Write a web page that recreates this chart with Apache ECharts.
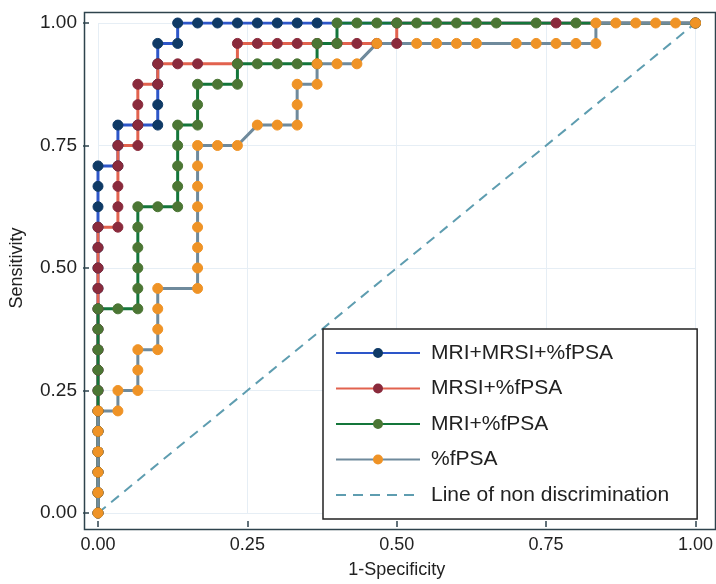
<!DOCTYPE html>
<html>
<head>
<meta charset="utf-8">
<script src="https://cdn.jsdelivr.net/npm/echarts@6/dist/echarts.min.js"></script>
<style>
  html, body { margin: 0; padding: 0; background: #fff; }
  #chart { width: 716px; height: 584px; }
</style>
</head>
<body>
<div id="chart"></div>
<script>
// ROC points as [false positives, true positives] counts
const nNeg = 30;
const nPos = 24;

const mriMrsiFpsa = [
  [0, 0], [0, 1], [0, 2], [0, 3], [0, 4], [0, 5], [0, 6], [0, 7], [0, 8], [0, 9],
  [0, 10], [0, 11], [0, 12], [0, 13], [0, 14], [0, 15], [0, 16], [0, 17],
  [1, 17], [1, 18], [1, 19], [2, 19], [3, 19], [3, 20], [3, 21], [3, 22], [3, 23],
  [4, 23], [4, 24], [5, 24], [6, 24], [7, 24], [8, 24], [9, 24], [10, 24], [11, 24],
  [30, 24]
];

const mrsiFpsa = [
  [0, 0], [0, 1], [0, 2], [0, 3], [0, 4], [0, 5], [0, 6], [0, 7], [0, 8], [0, 9],
  [0, 10], [0, 11], [0, 12], [0, 13], [0, 14],
  [1, 14], [1, 15], [1, 16], [1, 17], [1, 18], [2, 18], [2, 19], [2, 20], [2, 21],
  [3, 21], [3, 22], [4, 22], [5, 22], [7, 22], [7, 23], [8, 23], [9, 23], [10, 23],
  [11, 23], [12, 23], [13, 23], [14, 23], [15, 23], [15, 24], [23, 24], [30, 24]
];

const mriFpsa = [
  [0, 0], [0, 1], [0, 2], [0, 3], [0, 4], [0, 5], [0, 6], [0, 7], [0, 8], [0, 9], [0, 10],
  [1, 10], [2, 10], [2, 11], [2, 12], [2, 13], [2, 14], [2, 15], [3, 15], [4, 15],
  [4, 16], [4, 17], [4, 18], [4, 19], [5, 19], [5, 20], [5, 21], [6, 21], [7, 21],
  [7, 22], [8, 22], [9, 22], [10, 22], [11, 22], [11, 23], [12, 23], [12, 24],
  [13, 24], [14, 24], [15, 24], [16, 24], [17, 24], [18, 24], [19, 24], [20, 24],
  [22, 24], [24, 24], [30, 24]
];

const fpsa = [
  [0, 0], [0, 1], [0, 2], [0, 3], [0, 4], [0, 5], [1, 5], [1, 6], [2, 6], [2, 7], [2, 8],
  [3, 8], [3, 9], [3, 10], [3, 11], [5, 11], [5, 12], [5, 13], [5, 14], [5, 15], [5, 16],
  [5, 17], [5, 18], [6, 18], [7, 18], [8, 19], [9, 19], [10, 19], [10, 20], [10, 21],
  [11, 21], [11, 22], [12, 22], [13, 22], [14, 23], [16, 23], [17, 23], [18, 23],
  [19, 23], [21, 23], [22, 23], [23, 23], [24, 23], [25, 23], [25, 24], [26, 24],
  [27, 24], [28, 24], [29, 24], [30, 24]
];

const diagonal = [[0, 0], [1, 1]];

const seriesNames = ['MRI+MRSI+%fPSA', 'MRSI+%fPSA', 'MRI+%fPSA', '%fPSA', 'Line of non discrimination'];

const toRates = pts => pts.map(p => [p[0] / nNeg, p[1] / nPos]);

const font = 'Liberation Sans, Arial, Helvetica, sans-serif';

function rocSeries(name, pts, lineColor, dotColor) {
  return {
    name: name,
    type: 'line',
    data: toRates(pts),
    symbol: 'circle',
    symbolSize: 10,
    lineStyle: { color: lineColor, width: 3 },
    itemStyle: { color: dotColor, borderColor: dotColor, borderWidth: 1 },
    emphasis: { disabled: true },
    animation: false
  };
}

// 0..1 fills the grid; the axes are pushed out onto the frame with offset
function valueAxis(name, offset) {
  return {
    type: 'value',
    min: 0,
    max: 1,
    interval: 0.25,
    offset: offset,
    name: name,
    nameLocation: 'middle',
    nameTextStyle: { fontSize: 18, color: '#222', fontFamily: font },
    axisLine: { show: false, onZero: false },
    axisTick: {
      show: true, inside: true, length: 6,
      lineStyle: { color: '#2e434d', width: 1.5 }
    },
    axisLabel: {
      color: '#222', fontFamily: font,
      formatter: v => v.toFixed(2)
    },
    splitLine: { show: true, lineStyle: { color: '#e6eef5', width: 1 } }
  };
}

let chart = echarts.init(document.getElementById('chart'));

let xAxis = valueAxis('1-Specificity', 14);
xAxis.nameGap = 34;
xAxis.axisLabel.fontSize = 18;
xAxis.axisLabel.margin = 9;

let yAxis = valueAxis('Sensitivity', 15);
yAxis.nameGap = 57;
yAxis.nameRotate = 90;
yAxis.axisLabel.fontSize = 19;
yAxis.axisLabel.margin = 6;

let option = {
  backgroundColor: '#fff',
  textStyle: { fontFamily: font },
  grid: {
    left: 97,
    top: 23,
    width: 605,
    height: 490
  },
  graphic: [{
    type: 'rect',
    left: 82,
    top: 10,
    shape: { width: 631, height: 517 },
    style: { fill: null, stroke: '#2e434d', lineWidth: 1.5 },
    silent: true,
    z: 10
  }],
  xAxis: xAxis,
  yAxis: yAxis,
  legend: {
    data: seriesNames.slice(0, 4).concat([{ name: seriesNames[4], itemStyle: { opacity: 0 } }]),
    orient: 'vertical',
    left: 323,
    top: 329,
    padding: [12, 28, 12, 12],
    itemWidth: 84,
    itemHeight: 10,
    itemGap: 11.5,
    borderColor: '#222',
    borderWidth: 1.5,
    backgroundColor: '#fff',
    textStyle: { fontSize: 21, color: '#222', lineHeight: 24, fontFamily: font, padding: [0, 0, 0, 6] },
    selectedMode: false,
    z: 20
  },
  series: [
    {
      name: seriesNames[4],
      type: 'line',
      data: diagonal,
      symbol: 'none',
      lineStyle: { color: '#5e9db0', width: 2, type: [10, 7] },
      emphasis: { disabled: true },
      animation: false
    },
    rocSeries(seriesNames[0], mriMrsiFpsa, '#2d56c9', '#0f3a66'),
    rocSeries(seriesNames[1], mrsiFpsa, '#e2624e', '#8a2a3c'),
    rocSeries(seriesNames[2], mriFpsa, '#14763a', '#4b7634'),
    rocSeries(seriesNames[3], fpsa, '#6f8a9c', '#ef9326')
  ]
};

chart.setOption(option);
</script>
</body>
</html>
